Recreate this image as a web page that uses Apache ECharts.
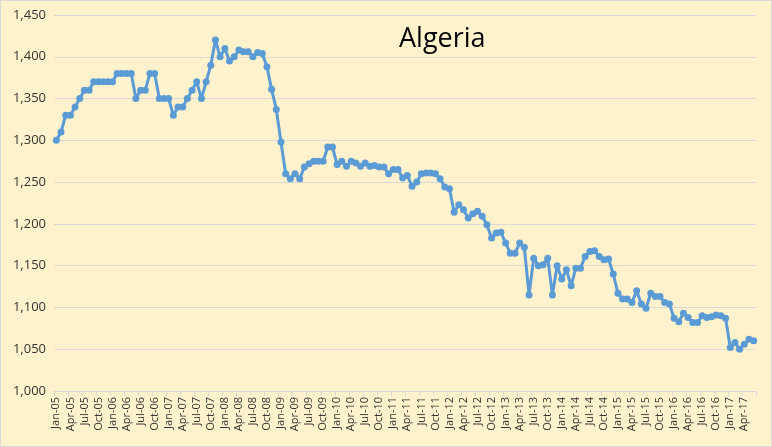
<!DOCTYPE html>
<html>
<head>
<meta charset="utf-8">
<script src="https://cdn.jsdelivr.net/npm/echarts@6/dist/echarts.min.js"></script>
<style>
html,body{margin:0;padding:0;background:#FFF2CC;}
#c{width:772px;height:447px;box-sizing:border-box;border:1px solid #D9D9D9;}
</style>
</head>
<body>
<div id="c"></div>
<script>
var monthNames = ['Jan','Feb','Mar','Apr','May','Jun','Jul','Aug','Sep','Oct','Nov','Dec'];
var years = ['05','06','07','08','09','10','11','12','13','14','15','16','17'];
var monthCount = 150;
var categories = [];
for (var k = 0; k < monthCount; k++) {
  categories.push(monthNames[k % 12] + '-' + years[Math.floor(k / 12)]);
}
var production = [
  1300,1310,1330,1330,1340,1350,1360,1360,1370,1370,1370,1370,
  1370,1380,1380,1380,1380,1350,1360,1360,1380,1380,1350,1350,
  1350,1330,1340,1340,1350,1360,1370,1350,1370,1390,1420,1400,
  1410,1395,1400,1408,1406,1406,1400,1405,1404,1388,1361,1337,
  1298,1260,1254,1260,1254,1268,1272,1275,1275,1275,1292,1292,
  1271,1275,1269,1275,1273,1269,1273,1269,1270,1268,1268,1260,
  1265,1265,1255,1258,1245,1250,1260,1261,1261,1260,1254,1244,
  1242,1214,1223,1217,1207,1212,1215,1209,1199,1183,1189,1190,
  1177,1165,1165,1177,1172,1115,1159,1150,1151,1159,1115,1150,
  1134,1145,1126,1147,1147,1161,1167,1168,1161,1157,1158,1140,
  1117,1110,1110,1106,1120,1104,1099,1117,1113,1113,1106,1104,
  1087,1083,1093,1088,1082,1082,1090,1088,1089,1091,1090,1087,
  1052,1058,1050,1056,1062,1060
];
var chartTitle = 'Algeria';
var yMin = 1000, yMax = 1450, yStep = 50;

var chart = echarts.init(document.getElementById('c'), null, {renderer: 'canvas'});
chart.setOption({
  backgroundColor: '#FFF2CC',
  animation: false,
  title: {
    text: chartTitle,
    left: 393, top: 20,
    textStyle: {fontFamily: 'Open Sans', fontSize: 27, fontWeight: 'normal', color: '#000000'}
  },
  grid: {left: 53, right: 15, top: 14, bottom: 55, containLabel: false},
  xAxis: {
    type: 'category',
    data: categories,
    boundaryGap: true,
    axisLine: {show: true, lineStyle: {color: '#D9D9D9', width: 1}},
    axisTick: {show: true, interval: 2, length: 5, lineStyle: {color: '#D9D9D9'}},
    axisLabel: {interval: 2, rotate: 90, fontFamily: 'Open Sans', fontSize: 11, color: '#333333', margin: 6},
    splitLine: {show: false}
  },
  yAxis: {
    type: 'value',
    min: yMin, max: yMax, interval: yStep,
    axisLine: {show: false},
    axisTick: {show: false},
    axisLabel: {
      fontFamily: 'Open Sans', fontSize: 13, color: '#333333', margin: 8,
      formatter: function (v) { return v.toLocaleString('en-US'); }
    },
    splitLine: {lineStyle: {color: '#D9D9D9', width: 1}}
  },
  series: [{
    type: 'line',
    data: production,
    symbol: 'circle',
    symbolSize: 7,
    showAllSymbol: true,
    lineStyle: {color: '#5B9BD5', width: 3},
    itemStyle: {color: '#5B9BD5'}
  }]
});
</script>
</body>
</html>
